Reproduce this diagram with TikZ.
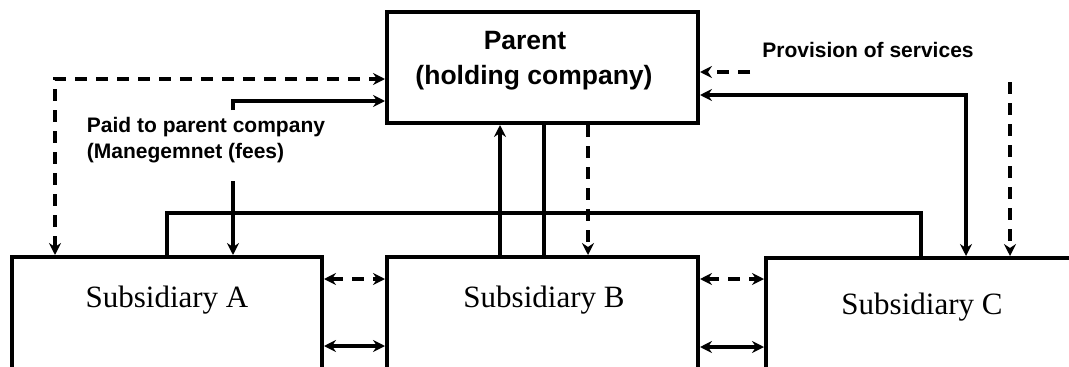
\documentclass[tikz,border=0pt]{standalone}
\usepackage{fontspec}
\setmainfont{Liberation Serif}
\setsansfont{Liberation Sans}
\usetikzlibrary{arrows.meta}
\begin{document}
\begin{tikzpicture}[x=1pt,y=-1pt,
  box/.style={draw,line width=4pt,rectangle,inner sep=0pt},
  ln/.style={line width=3.2pt},
  dsh/.style={line width=3.2pt,dash pattern=on 12pt off 9pt},
  tip/.style={-{Stealth[length=12pt,width=12pt,inset=4pt]}},
  tips/.style={{Stealth[length=12pt,width=12pt,inset=4pt]}-{Stealth[length=12pt,width=12pt,inset=4pt]}},
  lbl/.style={font=\sffamily\bfseries\fontsize{21}{26}\selectfont,inner sep=0pt},
  sub/.style={font=\rmfamily\fontsize{31}{36}\selectfont,inner sep=0pt}]
\useasboundingbox[fill=white] (0,0) rectangle (1069,367);

% boxes
\node[box,minimum width=311pt,minimum height=111pt] (P) at (542.5,67.5) {};
\node[box,minimum width=310pt,minimum height=160pt] (A) at (167,337) {};
\node[box,minimum width=311pt,minimum height=160pt] (B) at (542.5,337) {};
\node[box,minimum width=340pt,minimum height=160pt] (C) at (936,338) {};

% box texts
\node[font=\sffamily\bfseries\fontsize{26.5}{35}\selectfont,align=center,inner sep=0pt] (Ptxt) at (534,61)
  {Parent\hspace*{18pt}\\(holding company)};
\node[sub] (Atxt) at (167,300) {Subsidiary A};
\node[sub] (Btxt) at (544,300) {Subsidiary B};
\node[sub] (Ctxt) at (922,307) {Subsidiary C};

% annotations
\node[lbl,align=left] (paid) at (206,140) {Paid to parent company\\(Manegemnet (fees)};
\node[lbl] (prov) at (868,50) {Provision of services};

% free ends of connectors
\coordinate (dl) at (55,79);
\coordinate (p1) at (233,110);
\coordinate (p2) at (233,181);
\coordinate (lk) at (921,213);
\coordinate (pv) at (750,72);
\coordinate (sv) at (1010,82);

% left side: parent <-> subsidiary A
\draw[dsh,tips] (A.north -| dl) -- (dl) -- (P.west |- dl);
\draw[ln,tip] (p1) |- (P.west |- 0,101);
\draw[ln,tip] (p2) -- (A.north -| p2);

% link from A to C
\draw[ln] (A.north) |- (lk) -- (C.north -| lk);

% parent <-> subsidiary B
\draw[ln,tip] (B.north -| 500,0) -- (P.south -| 500,0);
\draw[ln] (P.south -| 544,0) -- (B.north -| 544,0);
\draw[dsh,tip] (P.south -| 588,0) -- (B.north -| 588,0);

% between subsidiaries
\draw[dsh,tips] (A.east |- 0,279) -- (B.west |- 0,279);
\draw[ln,tips] (A.east |- 0,346) -- (B.west |- 0,346);
\draw[dsh,tips] (B.east |- 0,279) -- (C.west |- 0,279);
\draw[ln,tips] (B.east |- 0,347) -- (C.west |- 0,347);

% right side: parent <-> subsidiary C
\draw[dsh,tip] (pv) -- (P.east |- pv);
\draw[ln,tips] (P.east |- 0,95) -| (C.north -| 966,0);
\draw[dsh,tip] (sv) -- (C.north -| sv);
\end{tikzpicture}
\end{document}
